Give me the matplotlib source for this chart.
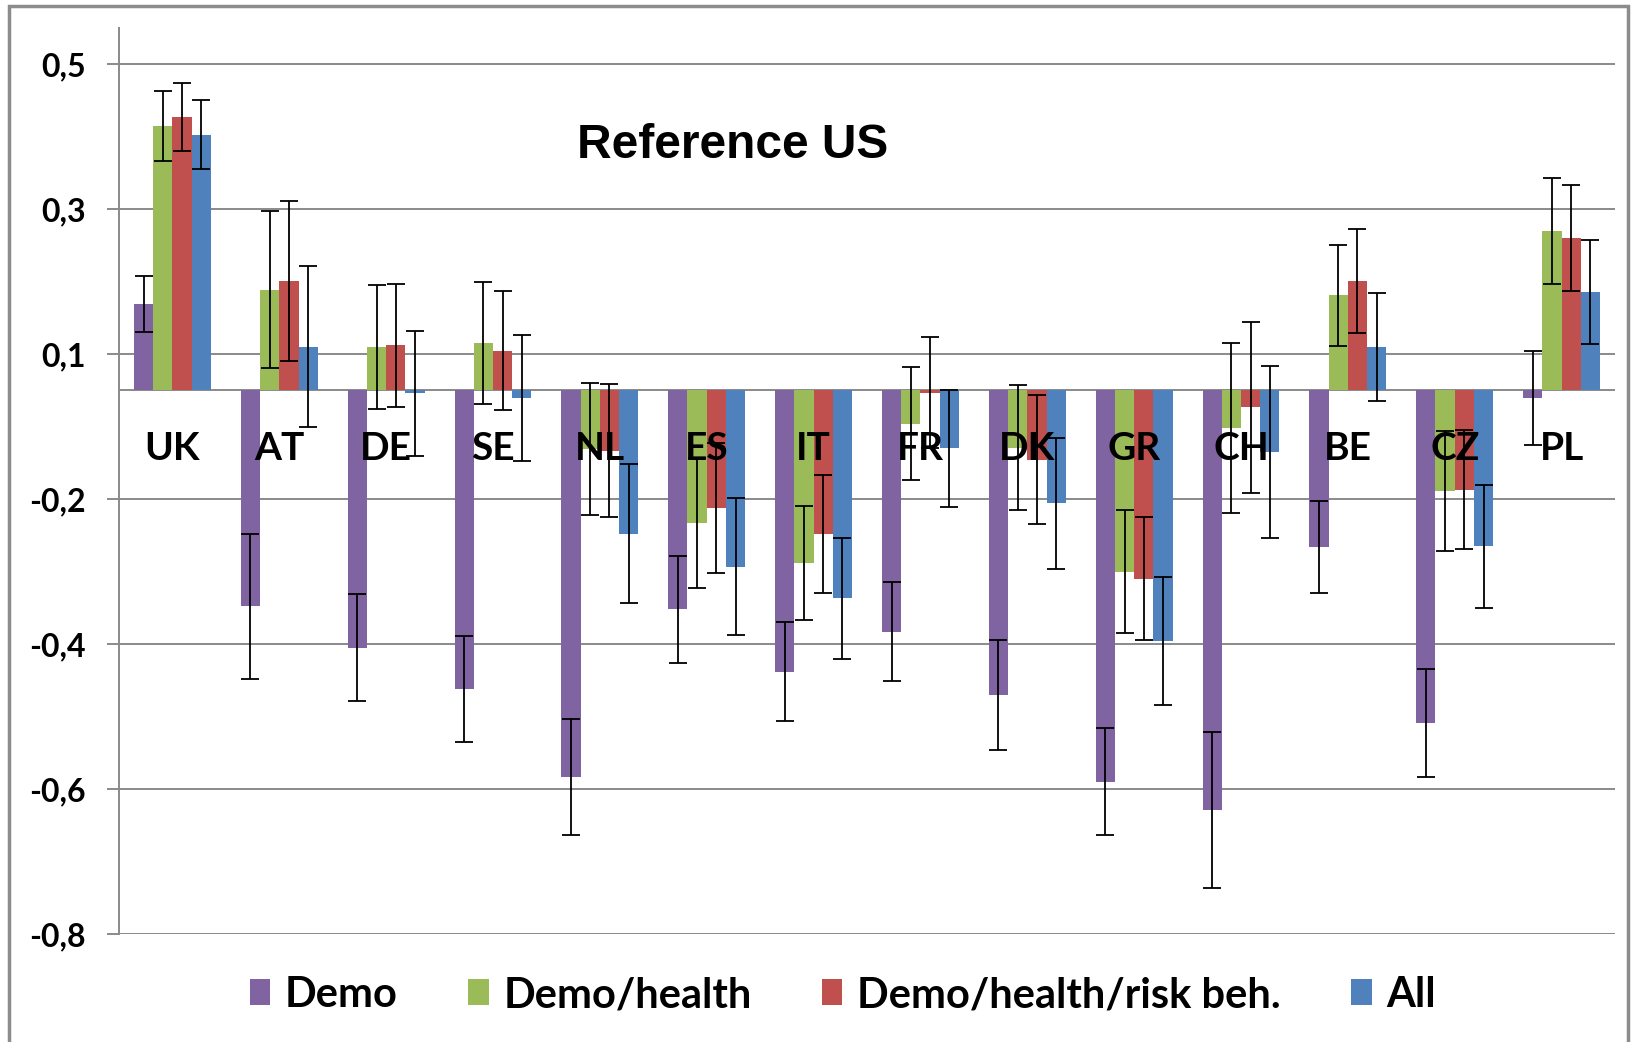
import numpy as np
import matplotlib
matplotlib.use("Agg")
import matplotlib.pyplot as plt
from matplotlib.patches import Rectangle, Patch
from matplotlib.ticker import FixedLocator, FuncFormatter

# Country codes along the x axis
countries = ["UK", "AT", "DE", "SE", "NL", "ES", "IT", "FR", "DK", "GR", "CH", "BE", "CZ", "PL"]

# Model specifications (series)
series_names = ["Demo", "Demo/health", "Demo/health/risk beh.", "All"]

# Estimates per country for each specification
demo = [0.119, -0.298, -0.355, -0.412, -0.533, -0.302, -0.388, -0.333, -0.420, -0.540, -0.579, -0.216, -0.459, -0.011]
demo_health = [0.365, 0.139, 0.060, 0.065, -0.081, -0.183, -0.238, -0.046, -0.079, -0.250, -0.052, 0.131, -0.139, 0.220]
demo_health_risk = [0.377, 0.151, 0.062, 0.055, -0.083, -0.162, -0.198, -0.003, -0.096, -0.260, -0.023, 0.151, -0.137, 0.210]
all_vars = [0.353, 0.060, -0.004, -0.011, -0.198, -0.243, -0.287, -0.080, -0.156, -0.346, -0.085, 0.060, -0.215, 0.136]

# Half-width of the confidence intervals
demo_err = [0.039, 0.100, 0.074, 0.073, 0.080, 0.074, 0.068, 0.068, 0.076, 0.074, 0.108, 0.063, 0.075, 0.065]
demo_health_err = [0.048, 0.108, 0.085, 0.084, 0.091, 0.090, 0.079, 0.078, 0.086, 0.085, 0.117, 0.070, 0.083, 0.073]
demo_health_risk_err = [0.047, 0.111, 0.085, 0.082, 0.092, 0.090, 0.081, 0.077, 0.089, 0.085, 0.118, 0.072, 0.082, 0.073]
all_vars_err = [0.048, 0.111, 0.086, 0.087, 0.096, 0.095, 0.083, 0.081, 0.090, 0.088, 0.119, 0.074, 0.085, 0.072]

# Y tick positions (labels shown rounded to one decimal, comma separator)
y_ticks = [0.45, 0.25, 0.05, -0.15, -0.35, -0.55, -0.75]

title_text = "Reference US"

colors = ["#8064A2", "#9BBB59", "#C0504D", "#4F81BD"]
grid_color = "#8A8A8A"

values = [demo, demo_health, demo_health_risk, all_vars]
errors = [demo_err, demo_health_err, demo_health_risk_err, all_vars_err]

W, H = 1633, 1042
fig = plt.figure(figsize=(W / 100, H / 100), dpi=100)
ax = fig.add_axes([119 / W, 1 - 934 / H, (1615 - 119) / W, (934 - 28) / H])

x = np.arange(len(countries))
bw = 0.18
offsets = (np.arange(4) - 1.5) * bw
for i in range(4):
    ax.bar(x + offsets[i], values[i], width=bw, color=colors[i], zorder=2,
           yerr=errors[i],
           error_kw=dict(ecolor="black", elinewidth=1.3, capsize=6.5, capthick=1.3, zorder=3))

ax.set_xlim(-0.5, len(countries) - 0.5)
ax.set_ylim(-0.75, 0.5)

# Gridlines and zero line
for t in y_ticks:
    ax.axhline(t, color=grid_color, lw=1.4, zorder=1)
ax.axhline(0, color=grid_color, lw=1.4, zorder=1.5)

ax.yaxis.set_major_locator(FixedLocator(y_ticks))
ax.yaxis.set_major_formatter(FuncFormatter(
    lambda v, p: f"{v + np.sign(v) * 1e-9:.1f}".replace(".", ",")))
ax.tick_params(axis="y", length=9, width=1.4, color=grid_color, pad=15,
               labelsize=23)
for lab in ax.get_yticklabels():
    lab.set_fontfamily("Lato")
    lab.set_fontweight("bold")
ax.set_xticks([])

for s in ["top", "right", "bottom"]:
    ax.spines[s].set_visible(False)
ax.spines["left"].set_color(grid_color)
ax.spines["left"].set_linewidth(1.4)

# Country labels just below the zero line
for xi, c in zip(x, countries):
    ax.text(xi, -0.080, c, ha="center", va="center", fontsize=28,
            fontfamily="Lato", fontweight="bold", zorder=5)

fig.text(733 / W, 1 - 145 / H, title_text,
         ha="center", va="center", fontsize=34.5, fontfamily="Liberation Sans",
         fontweight="bold")

handles = [Patch(facecolor=c, edgecolor="none") for c in colors]
leg = fig.legend(handles, series_names, loc="center", bbox_to_anchor=(0.516, 1 - 995 / H),
                 ncol=4, frameon=False, handlelength=0.5, handleheight=0.57,
                 handletextpad=0.35, columnspacing=1.68,
                 prop=dict(family="Lato", weight="bold", size=30))

# Chart frame
fig.add_artist(Rectangle((9 / W, -0.1), (1628 - 9) / W, 1.1 - 6 / H,
                         transform=fig.transFigure, fill=False,
                         edgecolor="#8C8C8C", lw=2.5))

fig.savefig("out.png", dpi=100)
